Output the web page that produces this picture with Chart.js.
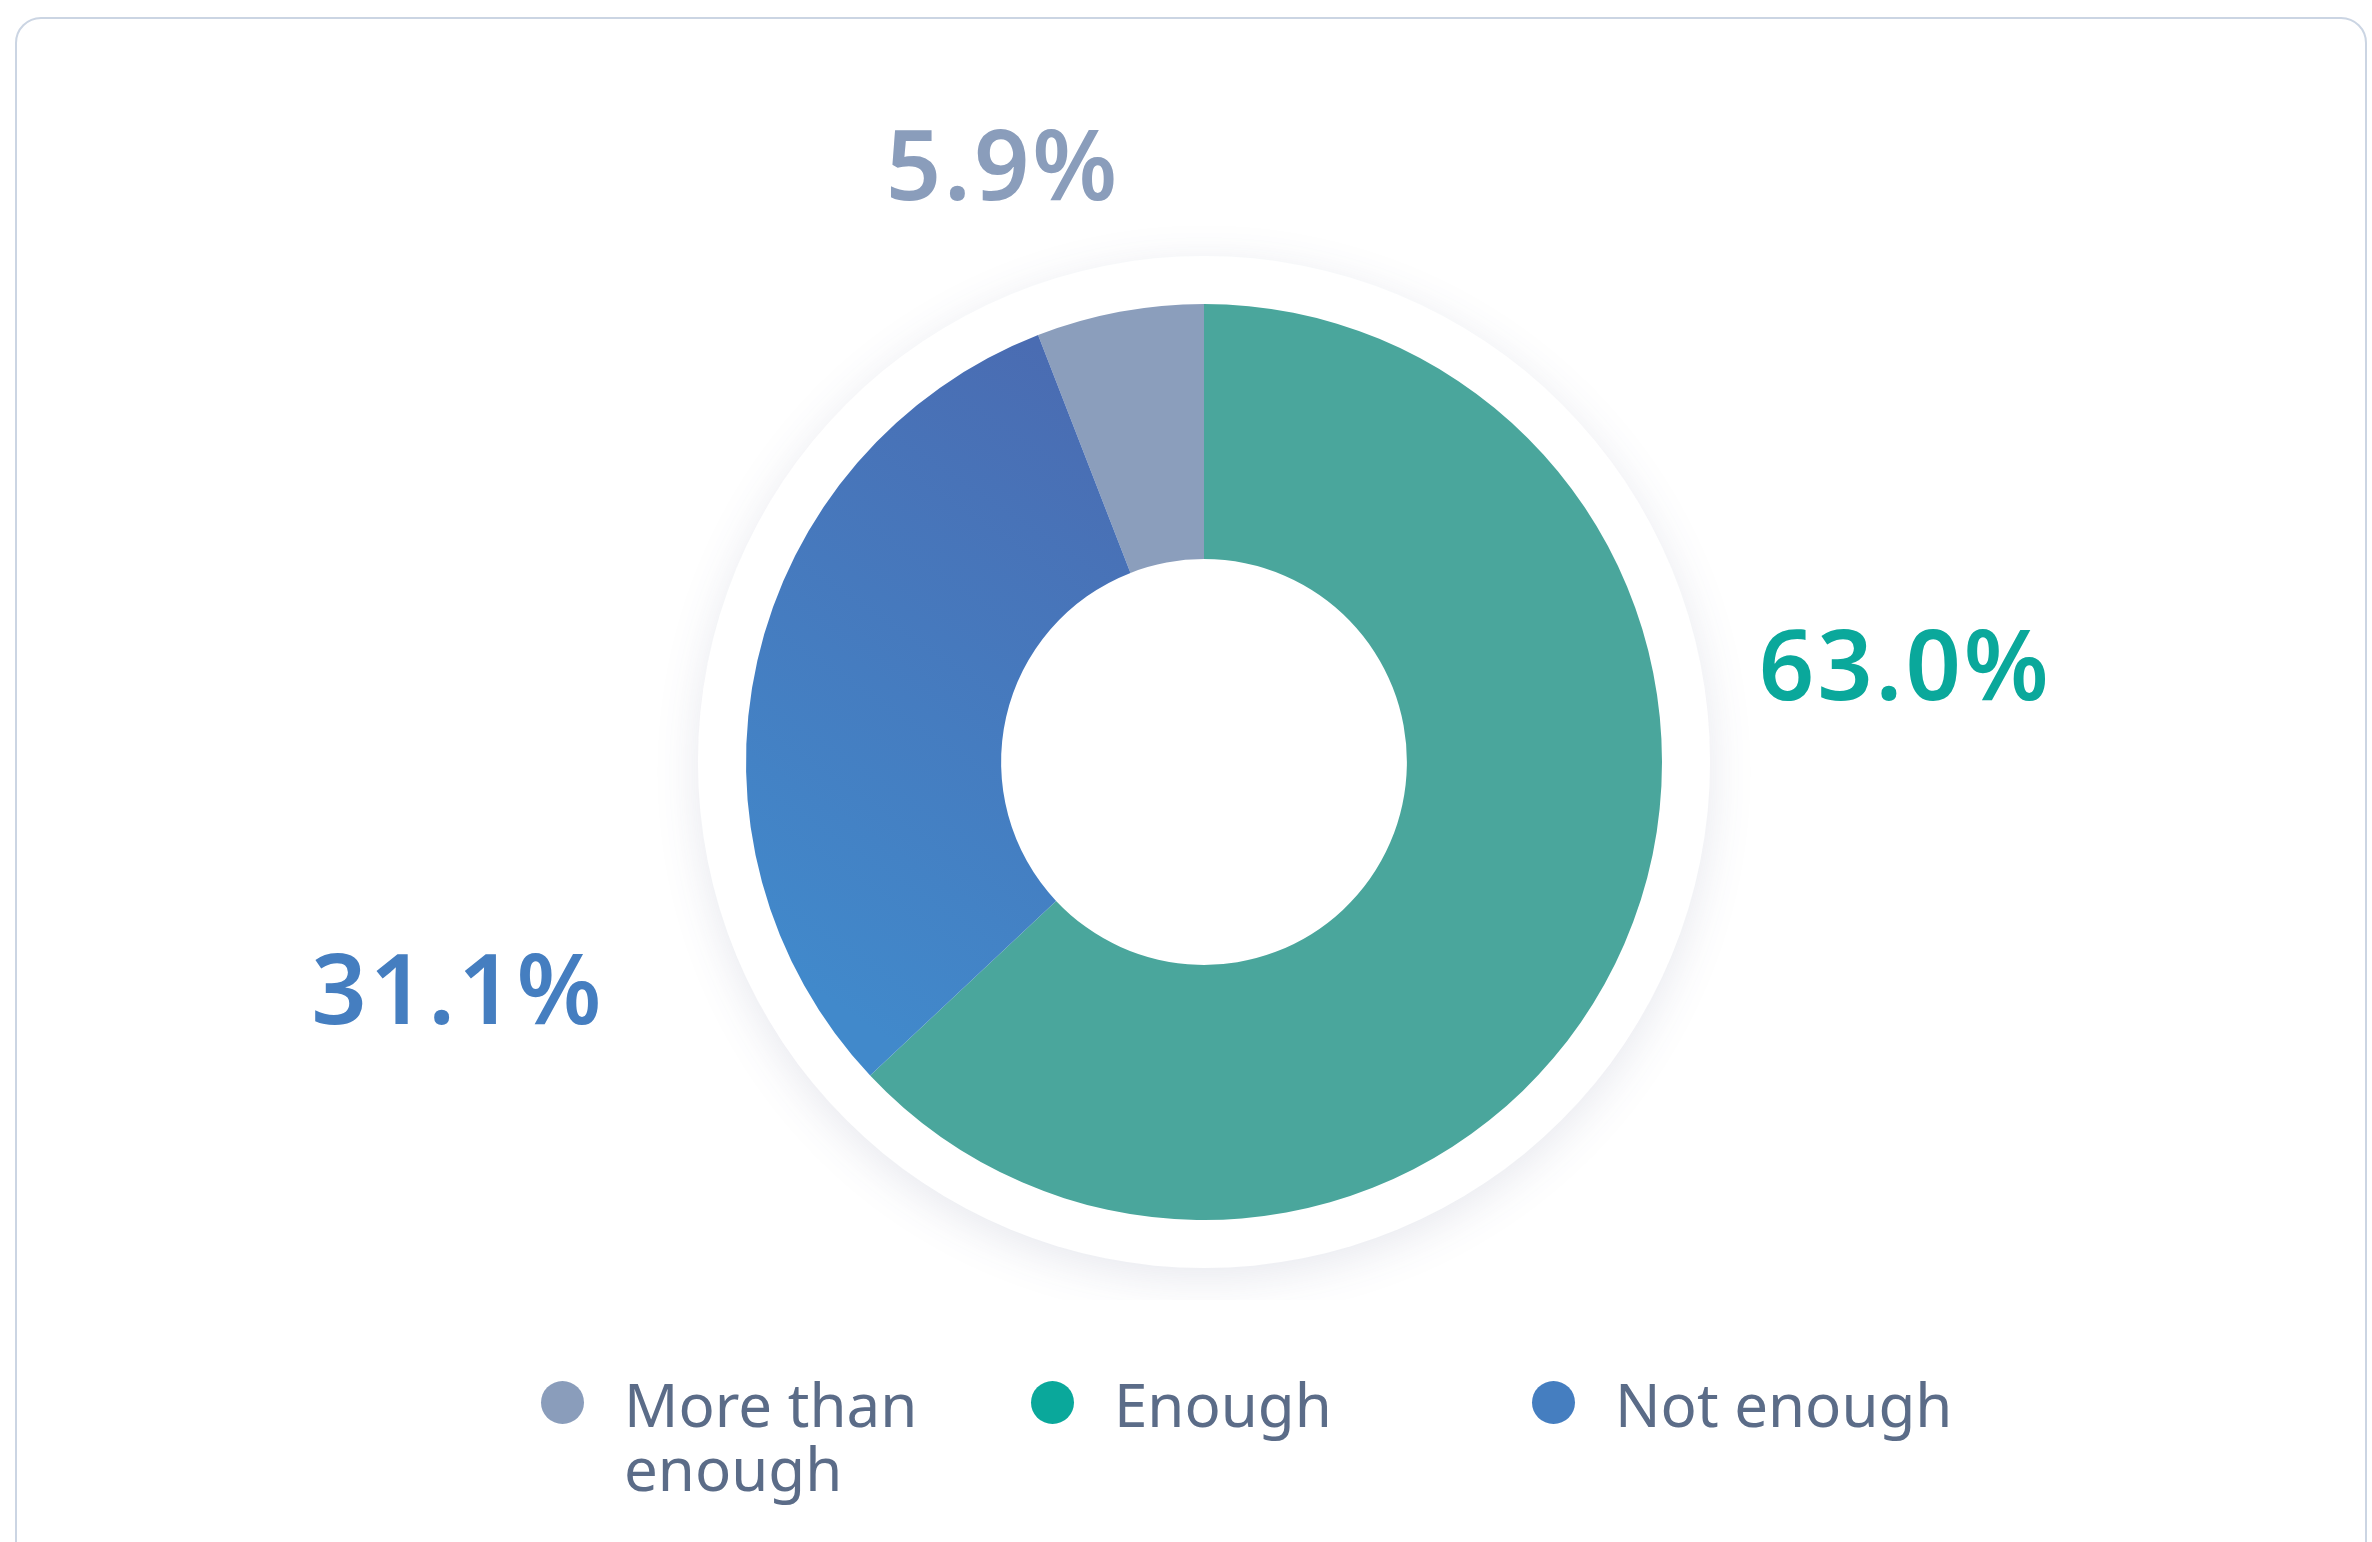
<!DOCTYPE html>
<html lang="en">
<head>
    <meta charset="UTF-8">
    <title>Enough / Not enough</title>
    <script src="https://cdn.jsdelivr.net/npm/chart.js"></script>
    <style>
        html, body {
            margin: 0;
            padding: 0;
            background: #ffffff;
            width: 2372px;
            height: 1542px;
            overflow: hidden;
            font-family: "Noto Sans", sans-serif;
        }
        .card {
            position: absolute;
            left: 15px;
            top: 17px;
            width: 2352px;
            height: 1600px;
            border: 2px solid #cbd5e3;
            border-radius: 26px;
            box-sizing: border-box;
        }
        #chart {
            position: absolute;
            left: 0;
            top: 0;
        }
        .legend {
            position: absolute;
            top: 1372px;
            left: 541px;
            display: flex;
        }
        .legend-item {
            display: flex;
            align-items: flex-start;
            width: 490px;
        }
        .legend-item:nth-child(2) { width: 501px; }
        .legend-dot {
            width: 43px;
            height: 43px;
            border-radius: 50%;
            margin-top: 9px;
            margin-right: 40px;
            flex: none;
        }
        .legend-text {
            font-size: 60px;
            line-height: 64px;
            color: #5b6c88;
            letter-spacing: 0;
            width: 370px;
        }
    </style>
</head>
<body>
    <div class="card"></div>
    <canvas id="chart" width="2372" height="1300"></canvas>
    <div class="legend" id="legend"></div>

    <script>
        // data
        const labels = ['More than enough', 'Enough', 'Not enough'];
        const values = [5.9, 63.0, 31.1];
        const sliceColors = ['#8b9ebc', '#4aa69c', null];   // null -> gradient
        const accentColors = ['#8a9dbb', '#0aa89b', '#457ec0'];

        // where each percentage sits, in outer radii from the donut centre
        const labelOffsets = [[-0.439, -1.227], [1.531, -0.135], [-1.629, 0.572]];

        function blueGradient(ctx) {
            const area = ctx.chart.chartArea;
            if (!area) return '#4677c0';
            const cx = (area.left + area.right) / 2;
            const cy = (area.top + area.bottom) / 2;
            const r = Math.min(area.right - area.left, area.bottom - area.top) / 2;
            const g = ctx.chart.ctx.createLinearGradient(cx - r, cy + r * 0.4, cx - r * 0.2, cy - r * 0.8);
            g.addColorStop(0, '#4189cb');
            g.addColorStop(1, '#4a6cb2');
            return g;
        }

        const haloPlugin = {
            id: 'halo',
            beforeDatasetsDraw(chart) {
                const arc = chart.getDatasetMeta(0).data[0];
                if (!arc || !isFinite(arc.outerRadius)) return;
                const c = chart.ctx;
                c.save();
                c.shadowColor = 'rgba(70, 80, 120, 0.13)';
                c.shadowBlur = 45;
                c.shadowOffsetY = 10;
                c.fillStyle = '#ffffff';
                c.beginPath();
                c.arc(arc.x, arc.y, arc.outerRadius * 1.105, 0, Math.PI * 2);
                c.fill();
                c.restore();
            }
        };

        const pctLabels = {
            id: 'pctLabels',
            afterDatasetsDraw(chart) {
                const meta = chart.getDatasetMeta(0);
                const c = chart.ctx;
                c.save();
                c.font = '600 97px "Noto Sans"';
                c.textAlign = 'center';
                c.textBaseline = 'alphabetic';
                c.letterSpacing = '3px';
                meta.data.forEach((arc, i) => {
                    const r = arc.outerRadius;
                    c.fillStyle = accentColors[i];
                    c.fillText(values[i].toFixed(1) + '%', arc.x + labelOffsets[i][0] * r, arc.y + labelOffsets[i][1] * r);
                });
                c.restore();
            }
        };

        new Chart(document.getElementById('chart'), {
            type: 'doughnut',
            data: {
                labels: labels,
                datasets: [{
                    data: values,
                    backgroundColor: (ctx) => sliceColors[ctx.dataIndex] || blueGradient(ctx),
                    borderWidth: 0,
                    hoverOffset: 0
                }]
            },
            options: {
                responsive: false,
                animation: false,
                cutout: '44.3%',
                rotation: -values[0] * 3.6,
                layout: {padding: {top: 304, bottom: 80, left: 36, right: 0}},
                plugins: {
                    legend: {display: false},
                    tooltip: {enabled: false}
                }
            },
            plugins: [haloPlugin, pctLabels]
        });

        // html legend so the long label can wrap
        const legendEl = document.getElementById('legend');
        labels.forEach((name, i) => {
            const item = document.createElement('div');
            item.className = 'legend-item';
            item.innerHTML = '<span class="legend-dot" style="background:' + accentColors[i] + '"></span>' +
                '<span class="legend-text">' + name + '</span>';
            legendEl.appendChild(item);
        });
    </script>
</body>
</html>
